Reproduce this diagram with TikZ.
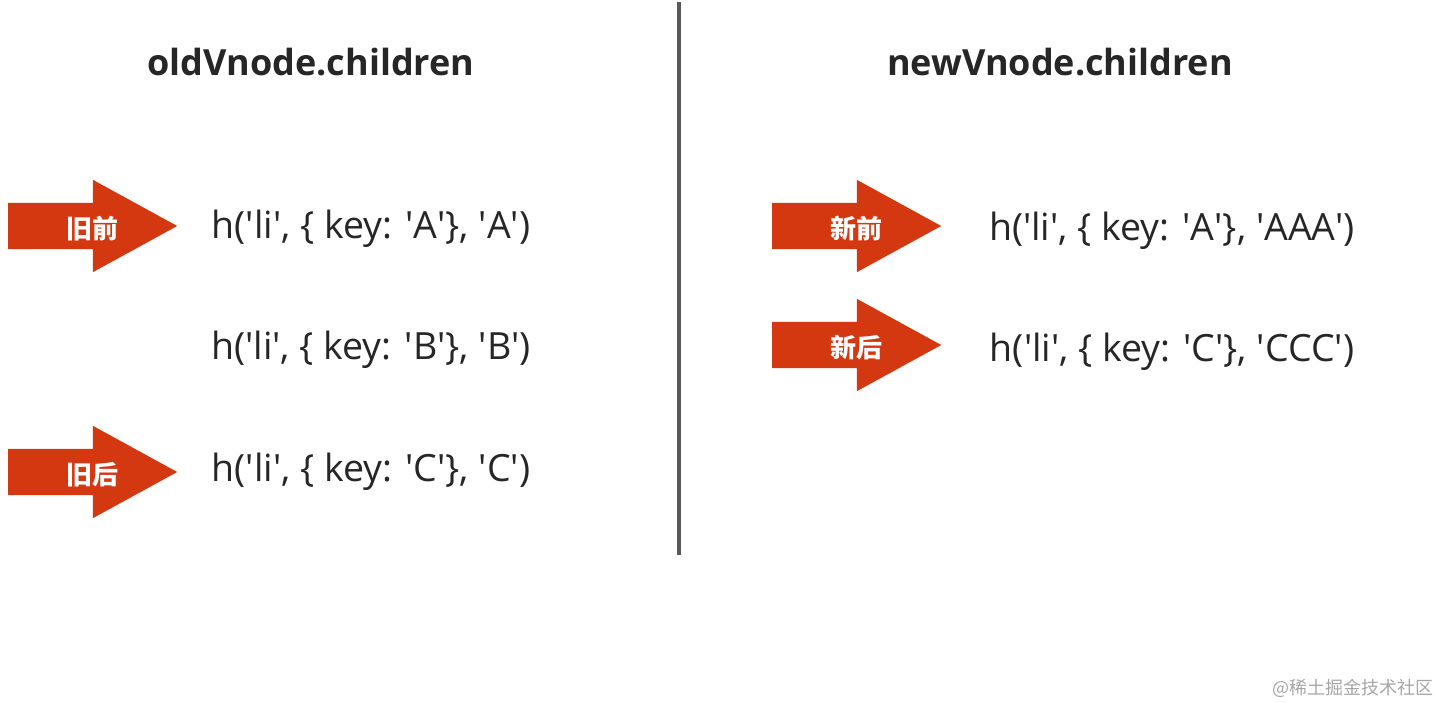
\documentclass[tikz,border=0pt]{standalone}
\usepackage{fontspec}
\setmainfont{Open Sans}
\newfontfamily\cjk{Noto Sans CJK SC}
\usetikzlibrary{shapes.arrows, calc}
\definecolor{arrowred}{RGB}{212,56,16}
\definecolor{rulegray}{RGB}{89,89,89}
\newcommand{\sq}{\textquotesingle}
\begin{document}
\begin{tikzpicture}[x=1pt, y=-1pt,
        pointer/.style={single arrow, fill=arrowred, draw=none, anchor=tail,
            minimum width=92pt, minimum height=169pt, inner xsep=0pt, inner ysep=23pt,
            single arrow head extend=23pt, single arrow tip angle=57.4},
        tag/.style={text=white, font=\cjk\bfseries\fontsize{26}{26}\selectfont},
        title/.style={text=black!85, font=\bfseries\fontsize{36}{42}\selectfont},
        code/.style={text=black!85, font=\fontsize{37.5}{44}\selectfont}]
    \useasboundingbox (0, 0) rectangle (1441, 703);
    \draw [rulegray, line width=4pt] (679, 2) -- (679, 555);
    % old children
    \node [title] (oldtitle) at (311, 62) {oldVnode.children};
    \node [pointer] (oldstart) at (8, 226) {};
    \node [pointer] (oldend) at (8, 472) {};
    \node [tag] (oldstarttag) at ($(oldstart.tail)!0.5!(oldstart.tip) + (0, 3)$) {旧前};
    \node [tag] (oldendtag) at ($(oldend.tail)!0.5!(oldend.tip) + (0, 3)$) {旧后};
    \node [code] (olda) at (371, 229) {h(\sq li\sq, \{ key: \sq A\sq\}, \sq A\sq)};
    \node [code] (oldb) at (371, 350) {h(\sq li\sq, \{ key: \sq B\sq\}, \sq B\sq)};
    \node [code] (oldc) at (371, 472) {h(\sq li\sq, \{ key: \sq C\sq\}, \sq C\sq)};
    % new children
    \node [title] (newtitle) at (1060, 62) {newVnode.children};
    \node [pointer] (newstart) at (772, 226) {};
    \node [pointer] (newend) at (772, 345) {};
    \node [tag] (newstarttag) at ($(newstart.tail)!0.5!(newstart.tip) + (0, 3)$) {新前};
    \node [tag] (newendtag) at ($(newend.tail)!0.5!(newend.tip) + (0, 3)$) {新后};
    \node [code] (newa) at (1172, 231) {h(\sq li\sq, \{ key: \sq A\sq\}, \sq AAA\sq)};
    \node [code] (newc) at (1172, 352) {h(\sq li\sq, \{ key: \sq C\sq\}, \sq CCC\sq)};
    \node [text=black!35, anchor=east, font=\cjk\fontsize{18}{18}\selectfont] (mark) at (1437, 688) {@稀土掘金技术社区};
\end{tikzpicture}
\end{document}
